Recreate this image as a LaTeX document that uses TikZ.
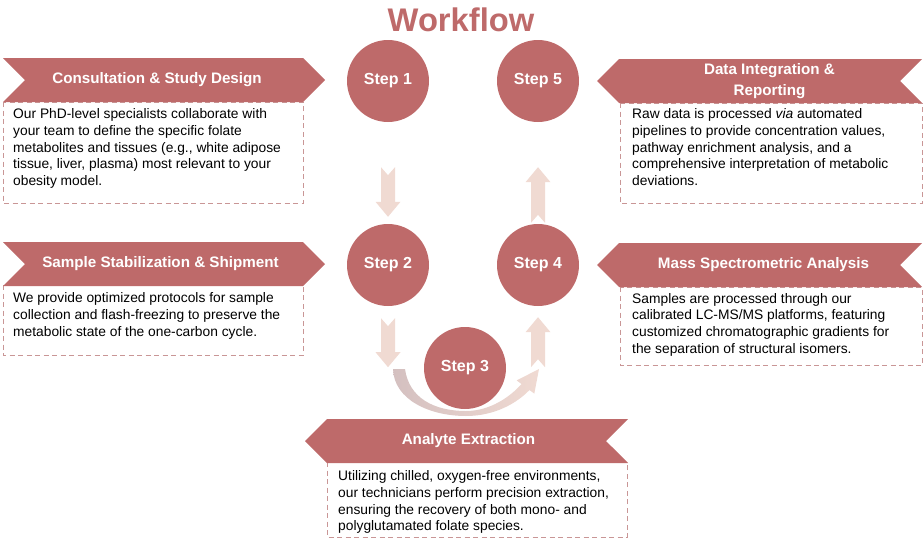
\documentclass[tikz,border=0pt]{standalone}
\usepackage{fontspec}
\setmainfont{Liberation Sans}
\usetikzlibrary{shapes.symbols,calc}

\definecolor{stepred}{RGB}{190,106,106}
\definecolor{arrowpink}{RGB}{240,218,210}
\definecolor{curvegray}{RGB}{212,192,192}
\definecolor{dashpink}{RGB}{201,150,150}

\tikzset{
  stepnode/.style={circle, fill=stepred, minimum size=82pt, inner sep=0pt,
    text=white, font=\bfseries\fontsize{16}{19}\selectfont},
  banner/.style={signal, signal pointer angle=90, fill=stepred,
    minimum height=44pt, inner sep=2pt},
  bannerR/.style={banner, signal from=west, signal to=east},
  bannerL/.style={banner, signal from=east, signal to=west},
  bannertext/.style={text=white, align=center, inner sep=0pt,
    font=\bfseries\fontsize{15.2}{21}\selectfont},
  dashbox/.style={draw=dashpink, dash pattern=on 5pt off 3.5pt, line width=0.8pt},
  bodytext/.style={anchor=north west, inner sep=0pt, align=left,
    font=\fontsize{13.8}{16.7}\selectfont},
}

% mui ten khoi: duoi -> dinh
\newcommand{\flowarrow}[2]{%
  \fill[arrowpink] let \p1=(#1), \p2=(#2), \n1={sign(\y2-\y1)} in
    (\x1-7pt,\y1) -- (\x1,\y1+8pt*\n1) -- (\x1+7pt,\y1)
    -- (\x1+7pt,\y2-15pt*\n1) -- (\x1+12.5pt,\y2-15pt*\n1) -- (\x2,\y2)
    -- (\x1-12.5pt,\y2-15pt*\n1) -- (\x1-7pt,\y2-15pt*\n1) -- cycle;}

\begin{document}
\begin{tikzpicture}[x=1pt, y=-1pt]
    \useasboundingbox (0,0) rectangle (924,549);

    % Tieu de
    \node[text=stepred, font=\bfseries\fontsize{32.7}{36}\selectfont] (title) at (461,20) {Workflow};

    % Mui ten cong duoi Step 3
    \shade[left color=curvegray, right color=arrowpink]
        (393,369) .. controls (394,400) and (430,416) .. (466,416)
        .. controls (495,416) and (517,403) .. (529.5,390) -- (534.3,393.6) -- (539,369)
        -- (516.7,380.4) -- (521.5,384) .. controls (510,397) and (490,411) .. (466,411)
        .. controls (434,411) and (409,398) .. (405,369) -- cycle;

    % Cac buoc
    \foreach \n/\x/\y in {1/388/81, 2/388/265, 3/465/368, 4/538/265, 5/538/81} {
        \node[stepnode] (s\n) at (\x,\y) {Step \n};
    }

    % Mui ten giua cac buoc
    \flowarrow{$(s1.south)+(0,45)$}{$(s2.north)+(0,-7)$}
    \flowarrow{$(s2.south)+(0,12)$}{$(s2.south)+(0,61)$}
    \flowarrow{$(s4.south)+(0,61)$}{$(s4.south)+(0,11)$}
    \flowarrow{$(s4.north)+(0,-1)$}{$(s5.south)+(0,45)$}

    % Khung noi dung
    \draw[dashbox] (3,102) rectangle (303,203);
    \draw[dashbox] (3,285) rectangle (303,355);
    \draw[dashbox] (620,103) rectangle (922,203);
    \draw[dashbox] (620,287) rectangle (922,365);
    \draw[dashbox] (327,462) rectangle (627,537);

    % Nhan
    \node[bannerR, minimum width=322pt] (h1) at (164,80) {};
    \node[bannerR, minimum width=322pt] (h2) at (164,264) {};
    \node[bannerL, minimum width=325pt] (h5) at (759.5,81) {};
    \node[bannerL, minimum width=325pt] (h4) at (759.5,265) {};
    \node[bannerL, minimum width=323pt] (h3) at (466.5,441) {};
    \node[bannertext] (l1) at ($(h1)+(-7,0)$) {Consultation \& Study Design};
    \node[bannertext] (l2) at ($(h2)+(-3.5,0)$) {Sample Stabilization \& Shipment};
    \node[bannertext] (l5) at ($(h5)+(10,0)$) {Data Integration \&\\Reporting};
    \node[bannertext] (l4) at ($(h4)+(4,0)$) {Mass Spectrometric Analysis};
    \node[bannertext] (l3) at ($(h3)+(2,0)$) {Analyte Extraction};

    % Van ban
    \node[bodytext] (t1) at (13,108.5) {Our PhD-level specialists collaborate with\\
        your team to define the specific folate\\
        metabolites and tissues (e.g., white adipose\\
        tissue, liver, plasma) most relevant to your\\
        obesity model.};
    \node[bodytext] (t2) at (13,292.5) {We provide optimized protocols for sample\\
        collection and flash-freezing to preserve the\\
        metabolic state of the one-carbon cycle.};
    \node[bodytext] (t5) at (632,108.5) {Raw data is processed \textit{via} automated\\
        pipelines to provide concentration values,\\
        pathway enrichment analysis, and a\\
        comprehensive interpretation of metabolic\\
        deviations.};
    \node[bodytext] (t4) at (632,293) {Samples are processed through our\\
        calibrated LC-MS/MS platforms, featuring\\
        customized chromatographic gradients for\\
        the separation of structural isomers.};
    \node[bodytext] (t3) at (338,470.5) {Utilizing chilled, oxygen-free environments,\\
        our technicians perform precision extraction,\\
        ensuring the recovery of both mono- and\\
        polyglutamated folate species.};
\end{tikzpicture}
\end{document}
